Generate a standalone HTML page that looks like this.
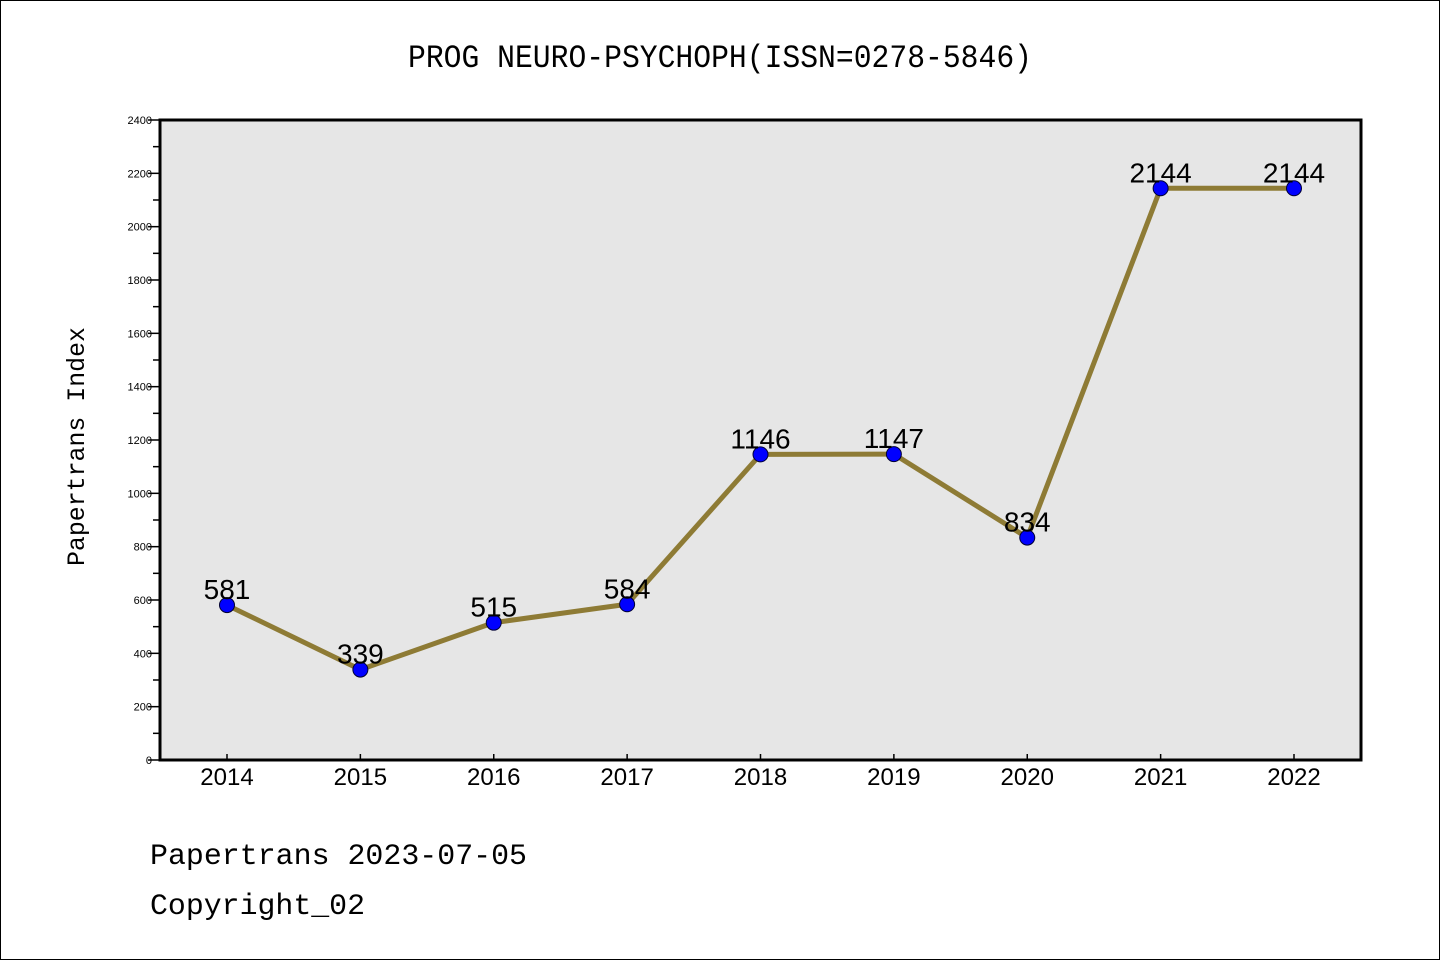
<!DOCTYPE html>
<html><head><meta charset="utf-8"><style>
html,body{margin:0;padding:0;background:#fff}
svg{display:block}
.mono{font-family:"WenQuanYi Zen Hei Mono","Liberation Mono","Noto Sans CJK SC",monospace}
.sans{font-family:"Liberation Sans","DejaVu Sans",sans-serif}
</style></head><body>
<svg id="chart" width="1440" height="960" xmlns="http://www.w3.org/2000/svg">
<rect x="0.5" y="0.5" width="1439" height="959" fill="#fff" stroke="#000" stroke-width="1"/>
<text class="mono" x="408" y="67" font-size="32" textLength="624" lengthAdjust="spacingAndGlyphs">PROG NEURO-PSYCHOPH(ISSN=0278-5846)</text>
<rect x="160" y="120" width="1201" height="640" fill="#e6e6e6"/>
<g id="axes"></g>
<g id="series"></g>
<rect x="160" y="120" width="1201" height="640" fill="none" stroke="#000" stroke-width="3"/>
<text class="mono" font-size="25" transform="translate(84,566) rotate(-90)" textLength="239" lengthAdjust="spacingAndGlyphs">Papertrans Index</text>
<text class="mono" x="150" y="864" font-size="30" textLength="377" lengthAdjust="spacingAndGlyphs">Papertrans 2023-07-05</text>
<text class="mono" x="150" y="914" font-size="30" textLength="215" lengthAdjust="spacingAndGlyphs">Copyright_02</text>
</svg>
<script>
const years = ["2014","2015","2016","2017","2018","2019","2020","2021","2022"];
const values = [581,339,515,584,1146,1147,834,2144,2144];
const yTicks = [0,200,400,600,800,1000,1200,1400,1600,1800,2000,2200,2400];
const NS="http://www.w3.org/2000/svg";
const x0=227, xStep=(1294-227)/8;
function xs(i){return x0+i*xStep;}
function ys(v){return 760-v*(640/2400);}
function mk(tag,attrs,parent){const e=document.createElementNS(NS,tag);for(const k in attrs)e.setAttribute(k,attrs[k]);parent.appendChild(e);return e;}
const axes=document.getElementById('axes'), series=document.getElementById('series');
yTicks.forEach(v=>{
  const t=mk('line',{x1:148,x2:160,y1:ys(v),y2:ys(v),stroke:'#000','stroke-width':1.5},axes);
  
  
  const l=mk('text',{x:152,y:ys(v)+4,'text-anchor':'end','font-size':11,class:'sans'},axes);
  l.textContent=v;
  
  
  if(v<2400){
    const m=mk('line',{x1:153,x2:160,y1:ys(v+100),y2:ys(v+100),stroke:'#000','stroke-width':1.5},axes);
    
    
  }
});
years.forEach((y,i)=>{
  const t=mk('line',{x1:xs(i),x2:xs(i),y1:754,y2:760,stroke:'#000','stroke-width':1.5},axes);
  
  
  const l=mk('text',{x:xs(i),y:785,'text-anchor':'middle','font-size':24,class:'sans'},axes);
  l.textContent=y;
  
  
});
const pl=mk('polyline',{points:values.map((v,i)=>xs(i)+','+ys(v)).join(' '),fill:'none',stroke:'#8e7b35','stroke-width':5,'stroke-linejoin':'round'},series);


values.forEach((v,i)=>{
  const c=mk('circle',{cx:xs(i),cy:ys(v),r:7.5,fill:'#0000ff',stroke:'#000033','stroke-width':1},series);
  
  
  const l=mk('text',{x:xs(i),y:ys(v)-6,'text-anchor':'middle','font-size':28,class:'sans'},series);
  l.textContent=v;
  
  
});
</script>
</body></html>
